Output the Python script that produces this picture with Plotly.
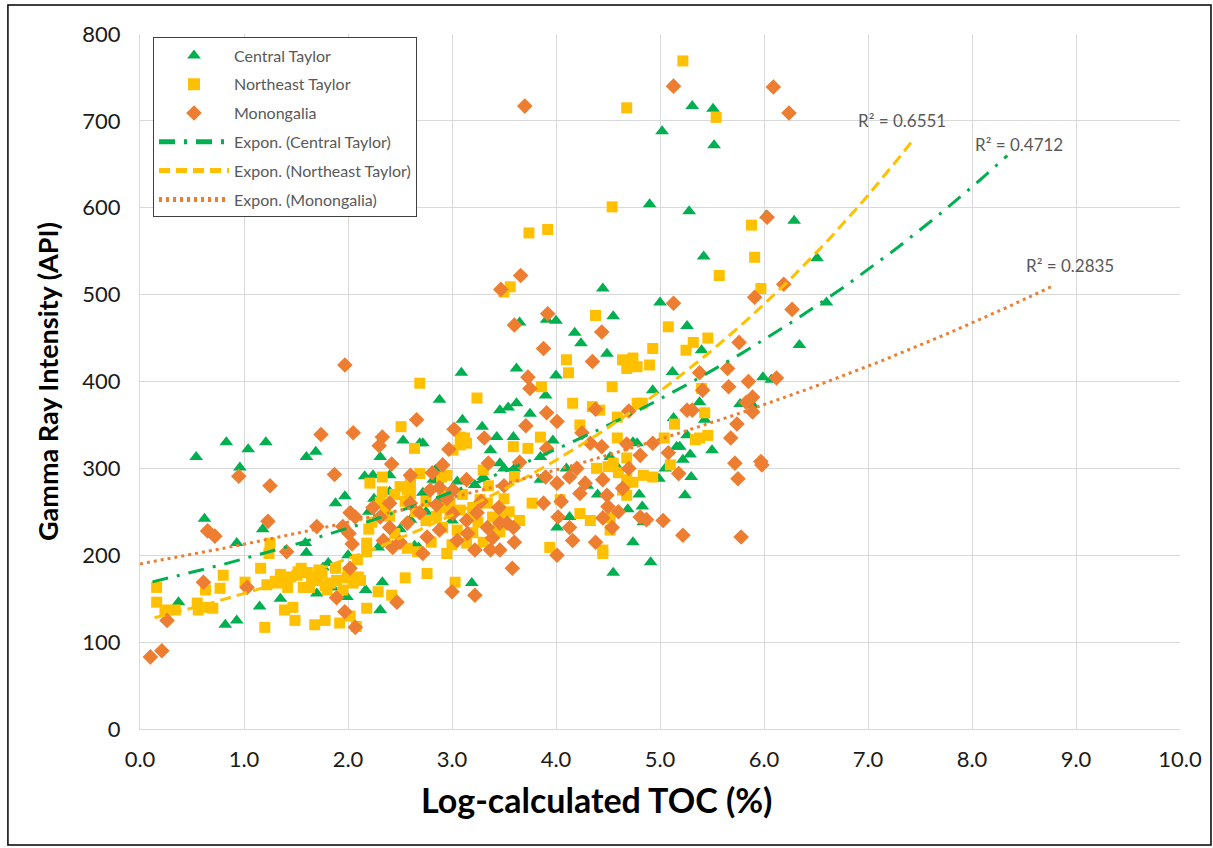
import plotly.graph_objects as go
import numpy as np

# ---------------- data ----------------
ct_x = [0.37, 0.54, 0.62, 0.82, 0.83, 0.93, 0.93, 0.96, 1.04, 1.15, 1.18, 1.21, 1.35, 1.59, 1.60,
        1.60, 1.69, 1.70, 1.76, 1.81, 1.65, 1.85, 1.88, 1.97, 1.99, 2.00, 2.03, 2.16, 2.17, 2.24,
        2.29, 2.31, 2.31, 2.33, 2.40, 2.40, 2.53, 2.60, 2.64, 2.68, 2.69, 2.72, 2.72, 2.82, 2.84,
        2.86, 2.88, 3.09, 3.10, 3.19, 3.22, 3.29, 3.37, 3.43, 3.46, 3.46, 3.54, 3.59, 3.62, 3.62,
        3.65, 3.75, 3.85, 3.85, 3.90, 3.91, 3.97, 4.00, 4.00, 4.01, 4.13, 4.18, 4.24, 4.45, 4.49,
        4.52, 4.55, 4.55, 4.69, 4.74, 4.74, 4.78, 4.83, 4.84, 4.90, 4.91, 4.93, 4.99, 5.00, 5.02,
        5.12, 5.13, 5.16, 5.19, 5.22, 5.24, 5.26, 5.26, 5.28, 5.29, 5.31, 5.38, 5.40, 5.42, 5.43,
        5.50, 5.51, 5.52, 5.77, 5.89, 5.99, 6.02, 6.07, 6.29, 6.34, 6.51, 6.60,
        2.20, 2.50, 2.90, 3.00, 3.30, 3.60, 4.10, 4.30, 4.40, 4.60, 4.80, 5.05, 5.30,
        2.35, 2.75, 3.05, 3.50, 2.25]
ct_y = [146, 313, 242, 120, 330, 125, 214, 301, 322, 141, 230, 330, 150, 214, 203,
        313, 319, 156, 186, 191, 168, 163, 260, 268, 152, 200, 250, 291, 160, 292,
        209, 313, 137, 169, 292, 273, 332, 241, 211, 209, 329, 272, 329, 287, 298,
        286, 379, 410, 356, 168, 281, 348, 321, 336, 306, 367, 370, 336, 375, 415,
        468, 363, 313, 287, 384, 471, 332, 407, 470, 232, 244, 456, 444, 507, 432,
        313, 475, 180, 253, 330, 215, 329, 256, 238, 604, 192, 390, 288, 491, 688,
        411, 358, 325, 325, 310, 269, 464, 338, 596, 316, 717, 376, 436, 544, 356,
        321, 714, 672, 374, 373, 405, 591, 402, 585, 442, 542, 491,
        250, 230, 265, 240, 290, 300, 300, 280, 270, 300, 270, 300, 290,
        245, 250, 285, 300, 265]

ne_x = [0.16, 0.16, 0.24, 0.34, 0.55, 0.56, 0.61, 0.70, 0.63, 0.77, 0.80, 1.01, 1.16, 1.24, 1.25,
        1.22, 1.20, 1.39, 1.47, 1.49, 1.68, 1.78, 1.92, 2.02, 2.08, 1.52, 1.30, 1.32, 1.41, 1.51,
        1.61, 1.57, 1.70, 1.83, 1.89, 1.99, 2.05, 2.12, 1.45, 1.65, 1.75, 1.95, 1.80, 1.59, 1.63,
        2.10, 2.18, 2.18, 2.09, 2.29, 2.42, 2.55, 2.76, 3.03, 2.57, 2.18, 2.67, 2.95, 2.69, 3.24,
        2.51, 2.64, 3.12, 2.21, 2.33, 2.50, 2.60, 2.69, 2.95, 3.08, 3.30, 3.85, 3.73, 3.59, 4.16,
        4.35, 4.42, 4.54, 4.59, 4.78, 4.23, 4.59, 4.39, 4.55, 4.64, 4.68, 3.77, 4.04, 4.23, 3.94,
        4.45, 4.33, 3.20, 3.39, 3.27, 2.91, 2.88, 2.98, 2.31, 2.36, 2.23, 2.33, 2.57, 2.60, 2.98,
        3.08, 3.20, 3.34, 3.46, 2.91, 3.05, 3.20, 3.39, 3.00, 3.14, 3.46, 3.01, 3.08, 3.14, 2.90,
        4.38, 5.08, 4.93, 4.64, 4.74, 4.68, 4.78, 4.90, 4.10, 4.12, 3.86, 4.81, 5.14, 5.10, 5.22,
        4.68, 5.54, 4.54, 3.74, 3.92, 5.88, 5.91, 5.57, 5.97, 3.56, 3.50, 5.32, 5.46, 5.25, 5.40,
        5.43, 4.83, 5.34, 5.38, 5.46, 4.68, 4.50, 4.60, 4.74, 4.84, 4.93, 4.68, 4.52, 4.52, 4.45,
        5.04, 3.50, 3.60, 3.35, 2.45, 2.75, 2.80, 3.45, 2.20, 2.65,
        2.45, 2.55, 2.85, 3.10, 3.25, 3.55, 3.65, 3.30, 2.75, 2.40,
        1.35, 1.55, 1.72, 1.88, 2.00, 1.42, 1.78]
ne_y = [163, 146, 137, 137, 145, 137, 140, 139, 160, 162, 177, 169, 185, 202, 214,
        166, 117, 137, 140, 125, 120, 125, 122, 130, 118, 181, 170, 168, 171, 177,
        180, 163, 171, 168, 171, 174, 168, 171, 175, 175, 178, 160, 160, 180, 163,
        175, 139, 204, 195, 158, 154, 174, 179, 169, 208, 214, 204, 202, 398, 381,
        348, 323, 335, 283, 290, 279, 271, 294, 292, 327, 298, 336, 323, 325, 375,
        371, 367, 394, 359, 375, 350, 335, 300, 306, 275, 287, 260, 264, 248, 209,
        206, 240, 248, 244, 264, 272, 255, 248, 261, 255, 238, 273, 275, 283, 260,
        252, 255, 260, 252, 232, 229, 226, 229, 212, 214, 227, 321, 336, 329, 290,
        476, 463, 438, 425, 427, 415, 417, 419, 425, 410, 394, 374, 351, 304, 769,
        715, 704, 601, 571, 575, 580, 543, 522, 507, 509, 503, 445, 450, 436, 392,
        364, 375, 333, 335, 338, 312, 302, 295, 284, 292, 290, 269, 243, 229, 202,
        335, 265, 290, 280, 225, 240, 215, 240, 230, 250,
        270, 262, 245, 270, 238, 250, 240, 215, 262, 245,
        178, 185, 183, 185, 180, 163, 165]

mo_x = [0.10, 0.21, 0.26, 0.61, 0.65, 0.72, 0.95, 1.25, 1.23, 1.03, 1.41, 1.74, 2.05, 1.87, 1.70,
        1.95, 2.01, 2.04, 2.02, 1.89, 1.97, 2.07, 2.07, 2.47, 3.00, 2.72, 1.97, 2.66, 2.33, 2.30,
        2.42, 2.60, 3.92, 3.60, 4.44, 3.88, 4.35, 3.73, 3.75, 3.91, 4.01, 3.71, 3.31, 3.02, 2.97,
        2.91, 2.81, 4.25, 4.38, 4.70, 4.93, 5.08, 4.81, 5.13, 4.68, 4.44, 4.33, 3.91, 3.65, 3.35,
        3.70, 5.13, 6.09, 6.24, 6.03, 3.66, 3.47, 6.19, 5.91, 6.27, 5.76, 5.38, 5.65, 5.66, 5.41,
        5.85, 6.12, 5.89, 5.83, 5.89, 5.31, 5.26, 5.74, 5.68, 5.72, 5.97, 5.98, 5.75, 5.18, 4.64,
        4.49, 4.50, 4.81, 4.87, 5.03, 4.54, 5.22, 5.78, 4.45, 4.13, 3.90, 4.01, 4.28, 4.23, 4.45,
        4.13, 3.88, 4.02, 4.16, 4.01, 4.38, 3.59, 3.46, 3.39, 3.22, 3.22, 3.58, 2.02, 2.24, 2.31,
        2.40, 2.40, 2.57, 2.69, 2.79, 2.88, 3.01, 3.14, 3.01, 3.14, 3.24, 3.05, 2.88, 2.76, 2.43,
        2.34, 3.37, 3.46, 3.53, 3.34,
        2.50, 2.60, 2.95, 3.15, 3.28, 3.45, 3.60, 2.85, 3.50, 4.05, 4.60, 4.70, 4.20]
mo_y = [83, 90, 125, 169, 228, 222, 291, 280, 239, 163, 204, 339, 341, 293, 233,
        233, 225, 213, 185, 151, 135, 117, 244, 146, 158, 202, 419, 356, 336, 326,
        305, 292, 478, 465, 457, 438, 423, 405, 392, 364, 354, 349, 335, 345, 322,
        304, 295, 341, 368, 366, 329, 318, 315, 490, 328, 325, 329, 323, 307, 306,
        717, 740, 739, 709, 589, 522, 506, 512, 497, 483, 445, 410, 415, 394, 390,
        400, 404, 382, 376, 365, 367, 367, 351, 335, 306, 308, 304, 288, 294, 277,
        269, 256, 244, 241, 240, 232, 223, 221, 287, 290, 290, 283, 283, 271, 243,
        232, 260, 244, 217, 200, 215, 232, 237, 220, 206, 154, 185, 249, 255, 244,
        260, 232, 237, 249, 275, 278, 275, 287, 248, 240, 249, 217, 229, 221, 209,
        217, 206, 206, 237, 232,
        215, 260, 265, 225, 262, 255, 215, 258, 280, 262, 250, 300, 300]

# exponential trendlines y = a * exp(b * x)
trend_names = ["Expon. (Central Taylor)", "Expon. (Northeast Taylor)", "Expon. (Monongalia)"]
trend_a = [166.0, 124.0, 190.0]
trend_b = [0.1655, 0.2286, 0.1125]
trend_x0 = [0.12, 0.14, 0.0]
trend_x1 = [8.34, 7.42, 8.78]
r2_text = ["R² = 0.4712", "R² = 0.6551", "R² = 0.2835"]
r2_x = [8.45, 7.33, 8.94]
r2_y = [673, 701, 534]

x_ticks = [0, 1, 2, 3, 4, 5, 6, 7, 8, 9, 10]
y_ticks = [0, 100, 200, 300, 400, 500, 600, 700, 800]
x_title = "Log-calculated TOC (%)"
y_title = "Gamma Ray Intensity (API)"

# ---------------- figure ----------------
GREEN, GOLD, ORANGE = "#00B050", "#FFC000", "#ED7D31"
FONT = "Lato"

fig = go.Figure()
fig.add_trace(go.Scatter(x=ct_x, y=ct_y, mode="markers", name="Central Taylor", legendgroup="a",
                         marker=dict(symbol="triangle-up", size=12, color=GREEN)))
fig.add_trace(go.Scatter(x=ne_x, y=ne_y, mode="markers", name="Northeast Taylor", legendgroup="b",
                         marker=dict(symbol="square", size=11, color=GOLD)))
fig.add_trace(go.Scatter(x=mo_x, y=mo_y, mode="markers", name="Monongalia", legendgroup="c",
                         marker=dict(symbol="diamond", size=12, color=ORANGE)))

styles = [(GREEN, "16px,9px,3px,9px"), (GOLD, "11px,6px"), (ORANGE, "3px,4px")]
for i in range(3):
    xs = np.linspace(trend_x0[i], trend_x1[i], 120)
    ys = trend_a[i] * np.exp(trend_b[i] * xs)
    col, dash = styles[i]
    fig.add_trace(go.Scatter(x=xs, y=ys, mode="lines", name=trend_names[i], legendgroup="t%d" % i,
                             line=dict(color=col, width=3, dash=dash), hoverinfo="skip"))

for i in range(3):
    fig.add_annotation(x=r2_x[i], y=r2_y[i], text=r2_text[i], showarrow=False,
                       font=dict(family=FONT, size=17, color="#595959"),
                       xanchor="center", yanchor="middle")

# x-axis title (placed slightly left of centre as in the reference)
fig.add_annotation(xref="paper", yref="paper", x=0.4385, y=-0.102, text="<b>%s</b>" % x_title,
                   showarrow=False, xanchor="center", yanchor="middle",
                   font=dict(family=FONT, size=34, color="#000000"))

fig.add_shape(type="rect", xref="paper", yref="paper", x0=-0.127, x1=1.0298, y0=-0.167, y1=1.0417,
              line=dict(color="#000000", width=1.5), layer="below")

fig.update_layout(
    width=1213, height=848,
    margin=dict(l=140, r=33, t=34, b=119),
    paper_bgcolor="white", plot_bgcolor="white",
    font=dict(family=FONT, color="#000000"),
    showlegend=True,
    legend=dict(x=0.0125, y=0.995, xanchor="left", yanchor="top",
                bgcolor="white", bordercolor="#404040", borderwidth=1,
                font=dict(family=FONT, size=16, color="#595959"),
                traceorder="grouped", tracegroupgap=5, itemsizing="constant", itemwidth=70),
    xaxis=dict(range=[0, 10], tickvals=x_ticks, ticktext=["%.1f" % v for v in x_ticks],
               showgrid=True, gridcolor="#d9d9d9", gridwidth=1.3, zeroline=False,
               showline=True, linecolor="#d9d9d9", linewidth=1.3, automargin=False,
               tickfont=dict(family=FONT, size=22, color="#1a1a1a"), ticklabelstandoff=10),
    yaxis=dict(range=[0, 800], tickvals=y_ticks,
               showgrid=True, gridcolor="#d9d9d9", gridwidth=1.3, zeroline=False,
               showline=True, linecolor="#d9d9d9", linewidth=1.3, automargin=False,
               tickfont=dict(family=FONT, size=22, color="#1a1a1a"), ticklabelstandoff=14,
               title=dict(text="<b>%s</b>" % y_title, font=dict(family=FONT, size=27, color="#000000"),
                          standoff=15)),
)

fig.write_html("out.html", config={"displayModeBar": False},
               post_script="document.body.style.margin='0px';")
